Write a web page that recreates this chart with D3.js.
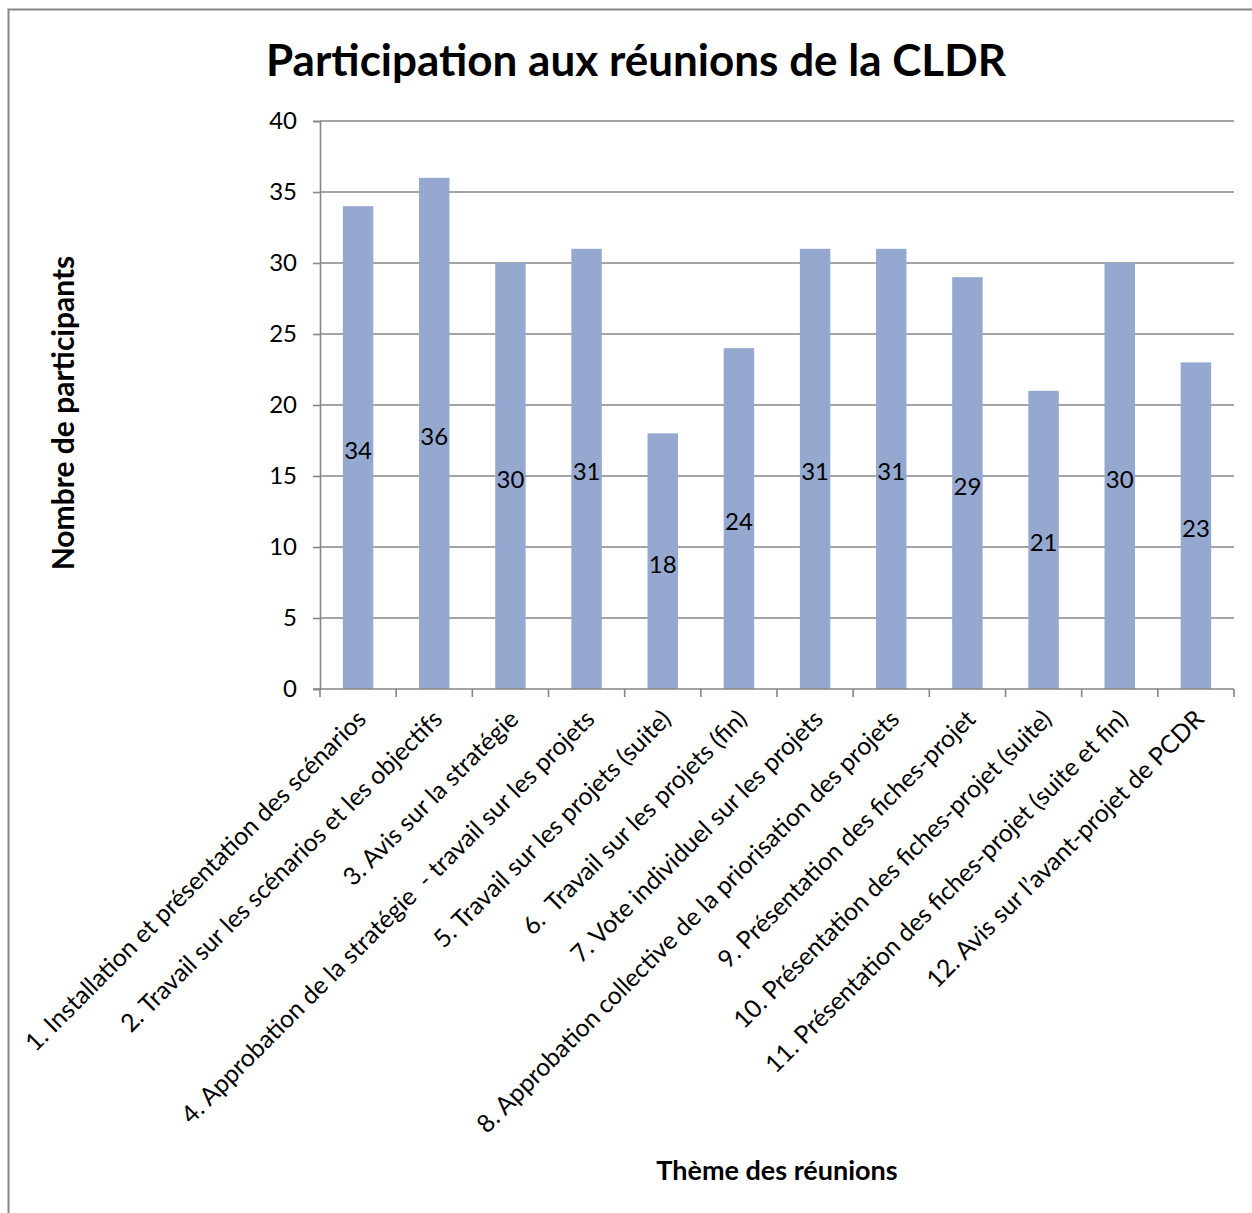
<!DOCTYPE html>
<html>
<head>
<meta charset="utf-8">
<script src="https://cdn.jsdelivr.net/npm/d3@7"></script>
<style>
  html, body { margin: 0; padding: 0; background: #fff; }
  svg { display: block; font-family: Lato, "Open Sans", sans-serif; }
</style>
</head>
<body>
<svg id="chart" width="1252" height="1213"></svg>
<script>
const categories = [
  "1. Installation et présentation des scénarios",
  "2. Travail sur les scénarios et les objectifs",
  "3. Avis sur la stratégie",
  "4. Approbation de la stratégie  - travail sur les projets",
  "5. Travail sur les projets (suite)",
  "6.  Travail sur les projets (fin)",
  "7. Vote individuel sur les projets",
  "8. Approbation collective de la priorisation des projets",
  "9. Présentation des fiches-projet",
  "10. Présentation des fiches-projet (suite)",
  "11. Présentation des fiches-projet (suite et fin)",
  "12. Avis sur l’avant-projet de PCDR"
];
const participants = [34, 36, 30, 31, 18, 24, 31, 31, 29, 21, 30, 23];
const yTicks = [0, 5, 10, 15, 20, 25, 30, 35, 40];
const titleText = "Participation aux réunions de la CLDR";
const yTitle = "Nombre de participants";
const xTitle = "Thème des réunions";

(function () {
const svg = d3.select("#chart");
const gray = "#868686";

// outer frame
svg.append("rect")
  .attr("x", 8.5).attr("y", 9.5)
  .attr("width", 1400).attr("height", 1400)
  .attr("fill", "none").attr("stroke", gray).attr("stroke-width", 2);

const pLeft = 320, pRight = 1234, pTop = 121, pBottom = 689;

const x = d3.scaleBand()
  .domain(categories)
  .range([pLeft, pRight])
  .paddingInner(0.6)
  .paddingOuter(0.3);

const y = d3.scaleLinear().domain([0, 40]).range([pBottom, pTop]);

// gridlines
svg.append("g")
  .selectAll("line")
  .data(yTicks.filter(d => d > 0))
  .join("line")
  .attr("x1", pLeft).attr("x2", pRight)
  .attr("y1", d => y(d)).attr("y2", d => y(d))
  .attr("stroke", gray).attr("stroke-width", 1.6);

// bars
svg.append("g")
  .selectAll("rect")
  .data(participants)
  .join("rect")
  .attr("x", (d, i) => x(categories[i]))
  .attr("y", d => y(d))
  .attr("width", x.bandwidth())
  .attr("height", d => y(0) - y(d))
  .attr("fill", "#95A9D0");

// y axis
const yAxis = d3.axisLeft(y).tickValues(yTicks).tickSize(7).tickPadding(16);
const gy = svg.append("g").attr("transform", `translate(${pLeft},0)`).call(yAxis);
gy.select(".domain").attr("stroke", gray).attr("stroke-width", 1.6);
gy.selectAll(".tick line").attr("stroke", gray).attr("stroke-width", 1.6);
gy.selectAll(".tick text")
  .attr("font-family", "Lato, sans-serif")
  .attr("font-size", 24).attr("fill", "#000");

// x axis baseline and ticks between categories
const step = x.step();
const boundaries = d3.range(categories.length + 1).map(i => pLeft + i * step);
svg.append("line")
  .attr("x1", pLeft - 7).attr("x2", pRight)
  .attr("y1", pBottom).attr("y2", pBottom)
  .attr("stroke", gray).attr("stroke-width", 1.6);
svg.append("g")
  .selectAll("line")
  .data(boundaries)
  .join("line")
  .attr("x1", d => d).attr("x2", d => d)
  .attr("y1", pBottom).attr("y2", pBottom + 8)
  .attr("stroke", gray).attr("stroke-width", 1.6);

// x labels rotated
svg.append("g")
  .selectAll("text")
  .data(categories)
  .join("text")
  .attr("transform", d => `translate(${x(d) + x.bandwidth() / 2 - 3},${pBottom + 19}) rotate(-45)`)
  .attr("text-anchor", "end")
  .attr("dy", "0.72em")
  .attr("font-size", 24.8)
  .attr("fill", "#000")
  .style("white-space", "pre")
  .text(d => d);

// value labels
svg.append("g")
  .selectAll("text")
  .data(participants)
  .join("text")
  .attr("x", (d, i) => x(categories[i]) + x.bandwidth() / 2)
  .attr("y", d => (y(d) + y(0)) / 2 + 2)
  .attr("text-anchor", "middle")
  .attr("dominant-baseline", "central")
  .attr("font-size", 24)
  .attr("fill", "#000")
  .text(d => d);

// title
svg.append("text")
  .attr("x", 636).attr("y", 76)
  .attr("text-anchor", "middle")
  .attr("font-weight", "bold")
  .attr("font-size", 44)
  .attr("fill", "#000")
  .text(titleText);

// y title
svg.append("text")
  .attr("transform", `translate(74,413) rotate(-90)`)
  .attr("text-anchor", "middle")
  .attr("font-weight", "bold")
  .attr("font-size", 30)
  .attr("fill", "#000")
  .text(yTitle);

// x title
svg.append("text")
  .attr("x", 777).attr("y", 1180)
  .attr("text-anchor", "middle")
  .attr("font-weight", "bold")
  .attr("font-size", 27)
  .attr("fill", "#000")
  .text(xTitle);
})();
</script>
</body>
</html>
